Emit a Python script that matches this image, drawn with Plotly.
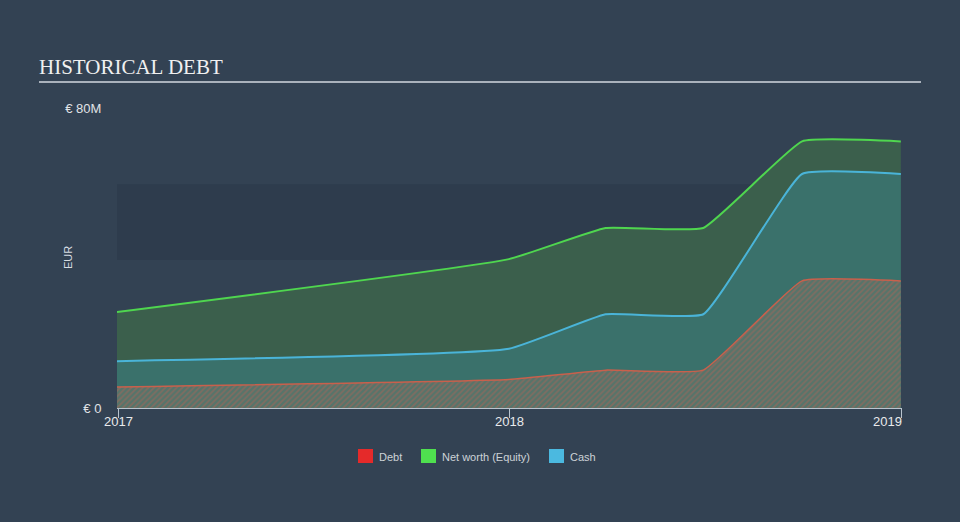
import plotly.graph_objects as go

dates = ["2016-12-31", "2017-12-31", "2018-03-31", "2018-06-30", "2018-09-30", "2018-12-31"]
net_worth = [25.6, 39.7, 48.0, 48.0, 71.1, 71.1]
cash = [12.5, 15.8, 25.0, 25.0, 62.4, 62.4]
debt = [5.6, 7.6, 10.1, 10.1, 33.9, 33.9]

x_tick_vals = ["2017-01-01", "2018-01-01", "2019-01-01"]
x_tick_text = ["2017", "2018", "2019"]
y_tick_vals = [0, 80]
y_tick_text = ["€ 0", "€ 80M"]

legend_names = ["Debt", "Net worth (Equity)", "Cash"]
legend_colors = ["#e52a2a", "#4fe04f", "#4bb9e0"]
legend_x = [358, 421, 549]

BG = "#334253"
SMOOTH = 0.35
L, R, T, B = 117, 902, 108, 408
PW, PH = R - L, B - T


def px(x):
    return (x - L) / PW


def py(y):
    return (B - y) / PH


fig = go.Figure()

fig.add_trace(go.Scatter(
    x=dates, y=net_worth, mode="lines", name="Net worth (Equity)",
    line=dict(color="#4fd64f", width=2, shape="spline", smoothing=SMOOTH),
    fill="tozeroy", fillcolor="#3b5f4c", showlegend=False, hoverinfo="skip"))
fig.add_trace(go.Scatter(
    x=dates, y=cash, mode="lines", name="Cash",
    line=dict(color="#4ab4d8", width=2, shape="spline", smoothing=SMOOTH),
    fill="tozeroy", fillcolor="#3a716b", showlegend=False, hoverinfo="skip"))
fig.add_trace(go.Scatter(
    x=dates, y=debt, mode="lines", name="Debt",
    line=dict(color="#c9604c", width=1.5, shape="spline", smoothing=SMOOTH),
    fill="tozeroy", fillcolor="rgba(0,0,0,0)",
    fillpattern=dict(shape="/", fgcolor="rgb(172,100,88)", bgcolor="rgb(86,116,106)",
                     size=4, solidity=0.4),
    showlegend=False, hoverinfo="skip"))

# background band
fig.add_shape(type="rect", xref="x", yref="y", x0="2016-12-31", x1="2018-12-31",
              y0=39.5, y1=59.7, fillcolor="#2e3c4d", line_width=0, layer="below")

# title
fig.add_annotation(text="HISTORICAL DEBT", xref="paper", yref="paper",
                   x=px(39), y=py(67), xanchor="left", yanchor="middle", xshift=-2,
                   showarrow=False, font=dict(family="Liberation Serif", size=21, color="#f0f0f0"))
fig.add_shape(type="line", xref="paper", yref="paper",
              x0=px(39), x1=px(921), y0=py(82), y1=py(82),
              line=dict(color="#aab2bc", width=2))

# EUR axis title
fig.add_annotation(text="EUR", xref="paper", yref="paper", x=px(68), y=py(258),
                   textangle=-90, showarrow=False, xanchor="center", yanchor="middle",
                   font=dict(family="Liberation Sans", size=11, color="#d8dde2"))

# x tick labels
anchors = ["center", "center", "right"]
offs = [0, 0, 2]
for v, t, a, o in zip(x_tick_vals, x_tick_text, anchors, offs):
    fig.add_annotation(text=t, x=v, xref="x", yref="paper", y=py(421),
                       xanchor=a, yanchor="middle", xshift=o, showarrow=False,
                       font=dict(family="Liberation Sans", size=13, color="#e8eaec"))

# legend (manual)
for nm, col, lx in zip(legend_names, legend_colors, legend_x):
    fig.add_shape(type="rect", xref="paper", yref="paper",
                  x0=px(lx), x1=px(lx + 15), y0=py(463), y1=py(449),
                  fillcolor=col, line_width=0)
    fig.add_annotation(text=nm, xref="paper", yref="paper", x=px(lx + 19), y=py(456.5),
                       xanchor="left", yanchor="middle", showarrow=False,
                       font=dict(family="Liberation Sans", size=11, color="#cdd2d7"))

fig.update_layout(
    width=960, height=522,
    margin=dict(l=L, r=960 - R, t=T, b=522 - B),
    paper_bgcolor=BG, plot_bgcolor=BG,
    showlegend=False,
    xaxis=dict(range=["2016-12-31", "2019-01-01 02:00"], tickvals=x_tick_vals, showticklabels=False,
               showgrid=False, zeroline=False, showline=True, linecolor="#b9c4cf", linewidth=1,
               ticks="outside", ticklen=9, tickcolor="#b9c4cf", tickwidth=1, fixedrange=True),
    yaxis=dict(range=[0, 80], tickvals=y_tick_vals, ticktext=y_tick_text, showgrid=False,
               zeroline=False, showline=False, ticks="outside", ticklen=12, tickcolor="rgba(0,0,0,0)",
               tickfont=dict(family="Liberation Sans", size=13, color="#e0e3e6"), fixedrange=True),
)

fig.write_html("out.html")
